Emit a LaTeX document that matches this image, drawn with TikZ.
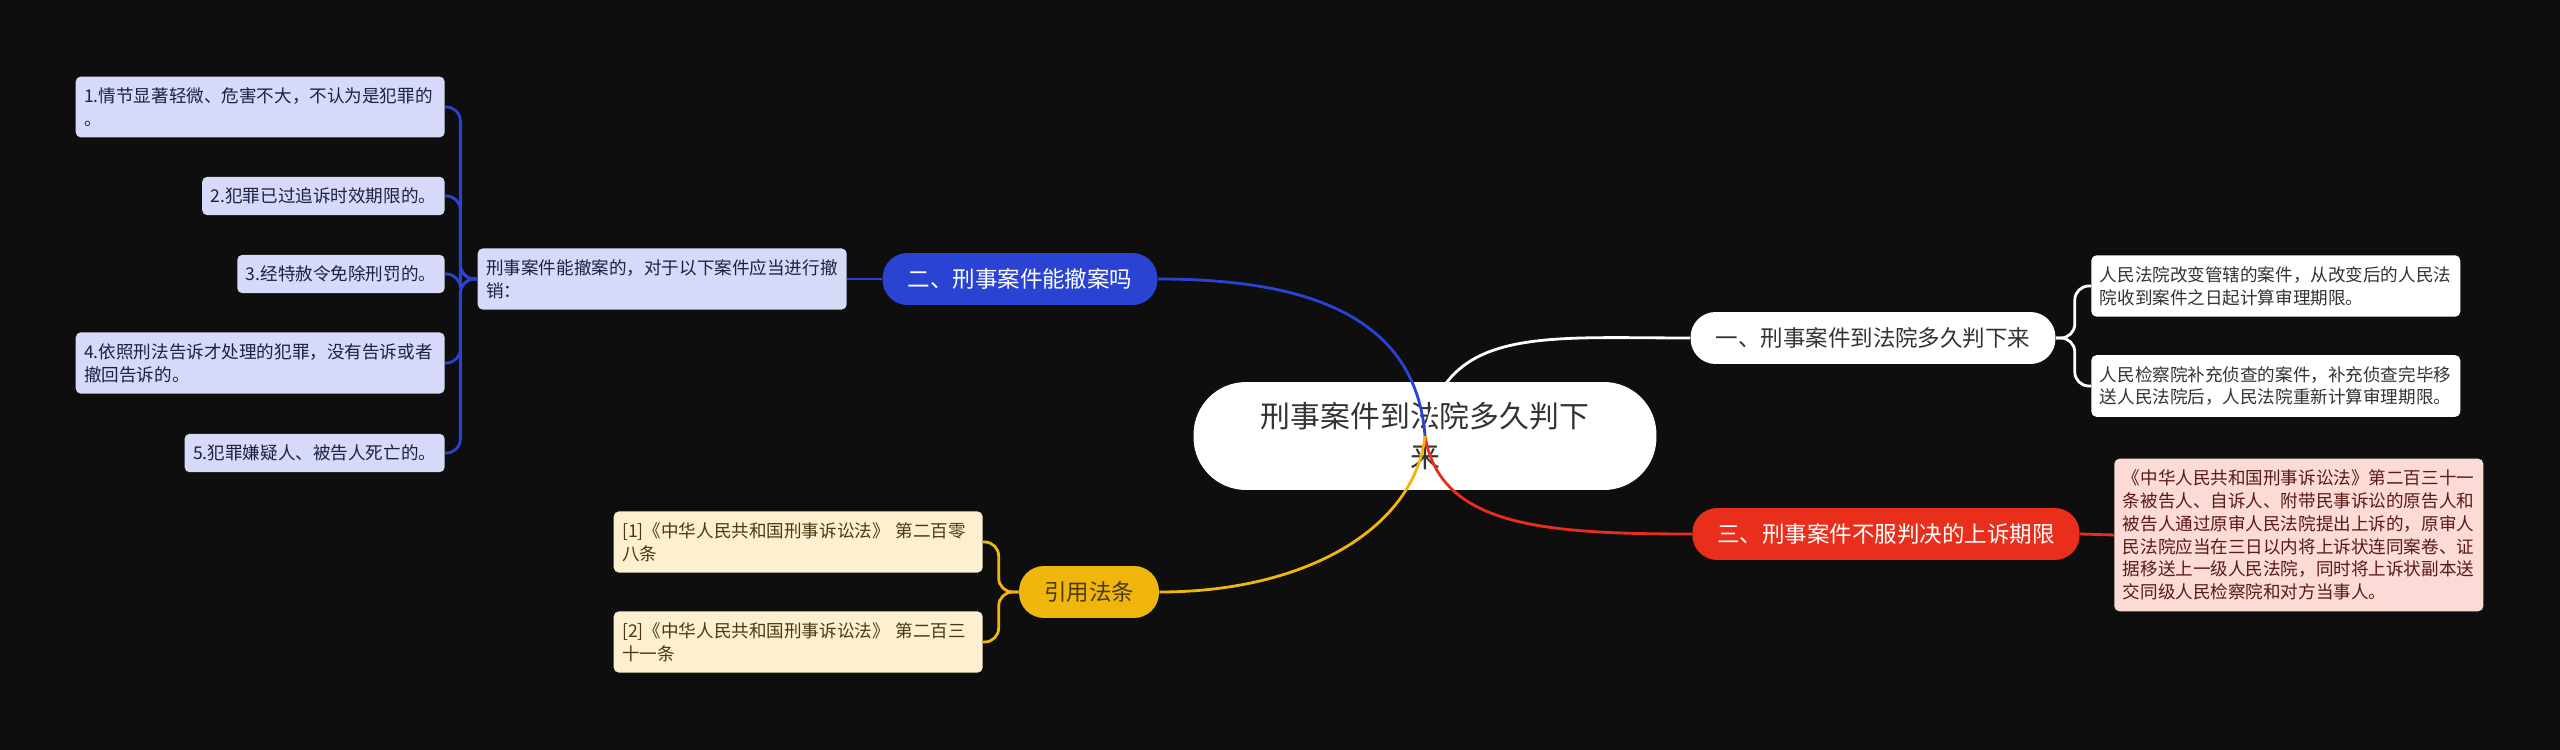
\documentclass[tikz,border=0pt]{standalone}
\usepackage{fontspec}
\setmainfont{Noto Sans CJK SC}
\usepackage{tikz}
\usetikzlibrary{shapes,arrows,positioning,calc}
\usepackage{xcolor}
\definecolor{bgdark}{RGB}{14,14,14}
\definecolor{bluebr}{RGB}{42,67,210}
\definecolor{blueleaf}{RGB}{214,217,247}
\definecolor{bluetext}{RGB}{30,32,64}
\definecolor{redbr}{RGB}{233,46,28}
\definecolor{redleaf}{RGB}{252,218,214}
\definecolor{redtext}{RGB}{90,26,20}
\definecolor{yellowbr}{RGB}{240,182,12}
\definecolor{yellowleaf}{RGB}{253,240,208}
\definecolor{yellowtext}{RGB}{74,58,16}
\definecolor{greytext}{RGB}{51,51,51}

\begin{document}
\begin{tikzpicture}[x=0.02cm,y=-0.02cm,
    rootbox/.style={fill=white,text=greytext,rounded corners=1.05cm,minimum width=9.26cm,minimum height=2.16cm,align=center,font=\fontsize{17}{23}\selectfont},
    branch/.style={rounded corners=0.5cm,minimum height=1.04cm,inner xsep=0.5cm,inner ysep=0pt,font=\fontsize{12.8}{15}\selectfont},
    leaf/.style={rounded corners=0.1cm,inner xsep=0.17cm,inner ysep=0.22cm,align=left,font=\fontsize{10}{13}\selectfont},
    wideleaf/.style={leaf,text width=7.04cm},
    link/.style={line width=1.6pt,rounded corners=0.28cm},
    mainlink/.style={line width=1.6pt}]
  \useasboundingbox (0,0) rectangle (2560,750);
  \fill[bgdark] (0,0) rectangle (2560,750);
  % root and branches
  \node[rootbox] (root) at (1425,436) {刑事案件到法院多久判下\\来};
  \node[branch,fill=white,text=greytext] (b1) at (1873,338) {一、刑事案件到法院多久判下来};
  \node[branch,fill=bluebr,text=white] (b2) at (1020,279) {二、刑事案件能撤案吗};
  \node[branch,fill=redbr,text=white] (b3) at (1886,534) {三、刑事案件不服判决的上诉期限};
  \node[branch,fill=yellowbr,text=yellowtext] (b4) at (1089,592) {引用法条};
  % leaves of branch one
  \node[wideleaf,fill=white,text=greytext,anchor=west] (c1) at (2091,286) {人民法院改变管辖的案件，从改变后的人民法\\院收到案件之日起计算审理期限。};
  \node[wideleaf,fill=white,text=greytext,anchor=west] (c2) at (2091,386) {人民检察院补充侦查的案件，补充侦查完毕移\\送人民法院后，人民法院重新计算审理期限。};
  % leaf of branch three
  \node[wideleaf,fill=redleaf,text=redtext,anchor=west] (r1) at (2114,535) {《中华人民共和国刑事诉讼法》第二百三十一\\条被告人、自诉人、附带民事诉讼的原告人和\\被告人通过原审人民法院提出上诉的，原审人\\民法院应当在三日以内将上诉状连同案卷、证\\据移送上一级人民法院，同时将上诉状副本送\\交同级人民检察院和对方当事人。};
  % leaves of branch two
  \node[wideleaf,fill=blueleaf,text=bluetext,anchor=east] (p1) at (847,279) {刑事案件能撤案的，对于以下案件应当进行撤\\销：};
  \node[wideleaf,fill=blueleaf,text=bluetext,anchor=east] (n1) at (445,107) {1.情节显著轻微、危害不大，不认为是犯罪的\\。};
  \node[leaf,fill=blueleaf,text=bluetext,anchor=east] (n2) at (445,196) {2.犯罪已过追诉时效期限的。};
  \node[leaf,fill=blueleaf,text=bluetext,anchor=east] (n3) at (445,274) {3.经特赦令免除刑罚的。};
  \node[wideleaf,fill=blueleaf,text=bluetext,anchor=east] (n4) at (445,363) {4.依照刑法告诉才处理的犯罪，没有告诉或者\\撤回告诉的。};
  \node[leaf,fill=blueleaf,text=bluetext,anchor=east] (n5) at (445,453) {5.犯罪嫌疑人、被告人死亡的。};
  % leaves of branch four
  \node[wideleaf,fill=yellowleaf,text=yellowtext,anchor=east] (y1) at (983,542) {[1]《中华人民共和国刑事诉讼法》 第二百零\\八条};
  \node[wideleaf,fill=yellowleaf,text=yellowtext,anchor=east] (y2) at (983,642) {[2]《中华人民共和国刑事诉讼法》 第二百三\\十一条};
  % curves from the root
  \draw[mainlink,white] (root.center) .. controls +(20,-110) and +(-150,0) .. (b1.west);
  \draw[mainlink,bluebr] (root.center) .. controls +(-10,-130) and +(130,0) .. (b2.east);
  \draw[mainlink,redbr] (root.center) .. controls +(15,90) and +(-150,0) .. (b3.west);
  \draw[mainlink,yellowbr] (root.center) .. controls +(-10,90) and +(150,0) .. (b4.east);
  % brackets to the leaves
  \coordinate (k1) at ($(b1.east)+(19,0)$);
  \foreach \n in {c1,c2} \draw[link,white] (b1.east) -- (k1) |- (\n.west);
  \draw[link,redbr] (b3.east) -- (r1.west);
  \draw[link,bluebr] (b2.west) -- (p1.east);
  \coordinate (k2) at ($(p1.west)+(-17,0)$);
  \foreach \n in {n1,n2,n3,n4,n5} \draw[link,bluebr] (p1.west) -- (k2) |- (\n.east);
  \coordinate (k4) at ($(b4.west)+(-20,0)$);
  \foreach \n in {y1,y2} \draw[link,yellowbr] (b4.west) -- (k4) |- (\n.east);
\end{tikzpicture}
\end{document}
